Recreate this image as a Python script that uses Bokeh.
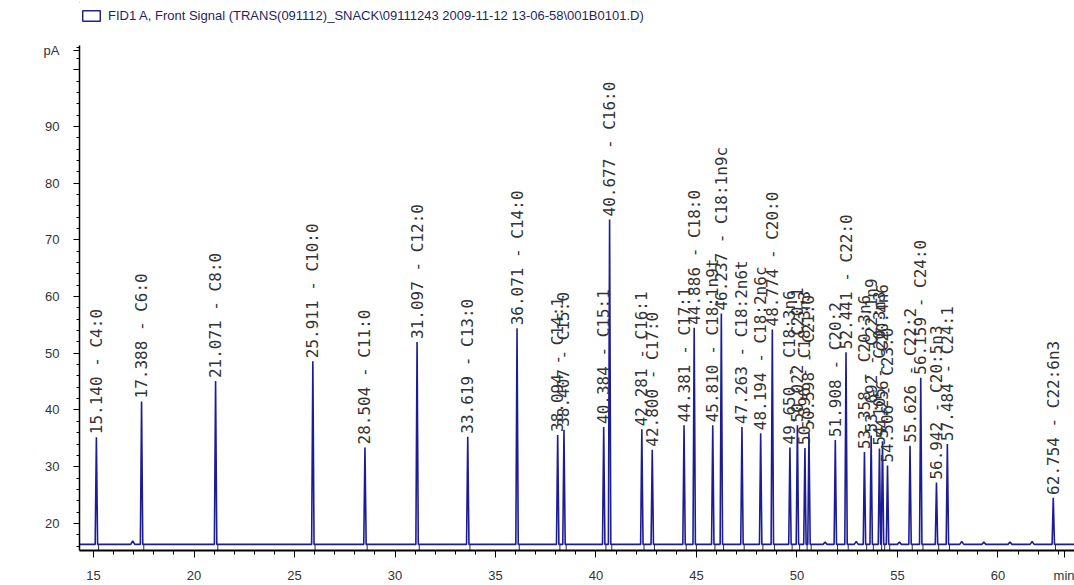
import math
from bokeh.plotting import figure
from bokeh.models import Range1d, FixedTicker, Legend, LegendItem, ColumnDataSource
from bokeh.core.properties import value
from bokeh.embed import file_html
from bokeh.resources import INLINE

# ---- data ----
signal_name = r"FID1 A, Front Signal (TRANS(091112)_SNACK\09111243 2009-11-12 13-06-58\001B0101.D)"
baseline_pA = 16.3
ret_times = [15.140, 17.388, 21.071, 25.911, 28.504, 31.097, 33.619, 36.071, 38.094, 38.407,
             40.384, 40.677, 42.281, 42.800, 44.381, 44.886, 45.810, 46.237, 47.263, 48.194,
             48.774, 49.650, 50.022, 50.396, 50.598, 51.908, 52.441, 53.358, 53.692, 54.105,
             54.256, 54.506, 55.626, 56.159, 56.942, 57.484, 62.754]
peak_pA = [35.2, 41.5, 45.1, 48.6, 33.4, 52.0, 35.3, 54.4, 35.6, 36.5,
           37.0, 73.6, 36.6, 33.0, 37.3, 54.5, 37.3, 57.0, 37.0, 35.9,
           54.2, 33.4, 37.3, 33.3, 36.0, 34.7, 50.2, 32.6, 35.5, 33.2,
           34.5, 30.2, 33.7, 45.7, 27.2, 34.0, 24.5]
compounds = ["C4:0", "C6:0", "C8:0", "C10:0", "C11:0", "C12:0", "C13:0", "C14:0", "C14:1", "C15:0",
             "C15:1", "C16:0", "C16:1", "C17:0", "C17:1", "C18:0", "C18:1n9t", "C18:1n9c", "C18:2n6t", "C18:2n6c",
             "C20:0", "C18:3n6", "C20:1", "C18:3n3", "C21:0", "C20:2", "C22:0", "C20:3n6", "C22:1n9", "C20:3n3",
             "C20:4n6", "C23:0", "C22:2", "C24:0", "C20:5n3", "C24:1", "C22:6n3"]
# small unlabeled baseline bumps
minor_times = [16.95, 51.40, 52.95, 55.10, 58.20, 59.30, 60.60, 61.70]
minor_pA = [16.9, 16.7, 16.8, 16.7, 16.8, 16.7, 16.7, 16.8]
x_major_ticks = [15, 20, 25, 30, 35, 40, 45, 50, 55, 60]
x_unit_tick, x_unit_label = 63.3, "min"
y_major_ticks = [20, 30, 40, 50, 60, 70, 80, 90, 100]
y_unit_tick, y_unit_label = 103.4, "pA"

# ---- build trace from the peak table ----
X0, X1 = 14.30, 63.81
Y0, Y1 = 15.22, 112.22
HW_MAIN, HW_MINOR = 0.06, 0.10
events = [(t, h, HW_MAIN) for t, h in zip(ret_times, peak_pA)] + \
         [(t, h, HW_MINOR) for t, h in zip(minor_times, minor_pA)]
events.sort()
xs, ys = [X0], [baseline_pA]
for t, h, hw in events:
    xs += [t - hw, t, t + hw]
    ys += [baseline_pA, h, baseline_pA]
xs.append(X1)
ys.append(baseline_pA)

p = figure(width=1074, height=585, output_backend="svg", toolbar_location=None,
           x_range=Range1d(X0, X1), y_range=Range1d(Y0, Y1),
           min_border_left=79, min_border_right=0, min_border_top=0, min_border_bottom=35)
p.background_fill_color = "white"
p.border_fill_color = "white"
p.outline_line_color = None
p.xgrid.visible = False
p.ygrid.visible = False
p.styles = {"outline": "1px solid #333333", "outline-offset": "-3px"}

trace = p.line(xs, ys, line_color="#1c1c96", line_width=1.6)

# integration marks just below the baseline
p.segment(x0=[t + 0.11 for t in ret_times], y0=[baseline_pA] * len(ret_times),
          x1=[t + 0.11 for t in ret_times], y1=[baseline_pA - 1.0] * len(ret_times),
          line_color="#2a2a55", line_width=1)

labels = ["%.3f - %s" % (t, c) for t, c in zip(ret_times, compounds)]
src = ColumnDataSource(dict(x=ret_times, y=peak_pA, text=labels))
p.text(x="x", y="y", text="text", source=src, angle=math.pi / 2,
       text_align="left", text_baseline="middle", y_offset=-3,
       text_font=value("DejaVu Sans Mono"), text_font_size="16px", text_color="#333333")

# axes
xa = p.xaxis[0]
xa.ticker = FixedTicker(ticks=x_major_ticks + [x_unit_tick],
                        minor_ticks=list(range(15, 64)))
xa.major_label_overrides = {x_unit_tick: x_unit_label}
xa.axis_line_width = 2
xa.axis_line_color = "black"
xa.major_tick_out = 7
xa.major_tick_in = 0
xa.minor_tick_out = 4
xa.minor_tick_in = 0
xa.major_tick_line_color = "black"
xa.minor_tick_line_color = "black"
xa.major_label_standoff = 10
xa.major_label_text_font = "Liberation Sans"
xa.major_label_text_font_size = "13px"
xa.major_label_text_color = "#333333"

ya = p.yaxis[0]
ya.ticker = FixedTicker(ticks=y_major_ticks + [y_unit_tick],
                        minor_ticks=list(range(16, 105, 2)))
ya.bounds = (Y0, 104.3)
ya.major_label_overrides = {100: "", y_unit_tick: y_unit_label}
ya.axis_line_width = 1.5
ya.axis_line_color = "black"
ya.major_tick_out = 6
ya.major_tick_in = 0
ya.minor_tick_out = 3
ya.minor_tick_in = 0
ya.major_tick_line_color = "black"
ya.minor_tick_line_color = "black"
ya.major_label_standoff = 14
ya.major_label_text_font = "'Liberation Sans Narrow', 'Liberation Sans'"
ya.major_label_text_font_size = "13px"
ya.major_label_text_color = "#333333"

# legend: box outline + signal description (one off-range row so the legend glyph has visuals)
box = p.quad(left=[X0 - 5], right=[X0 - 4], top=[Y0 - 5], bottom=[Y0 - 6],
             fill_color=None, line_color="#23238a", line_width=1.5)
leg = Legend(items=[LegendItem(label=signal_name, renderers=[box])], location=(1, 527),
             margin=0, padding=0, spacing=0, glyph_width=22, glyph_height=13, label_height=15,
             label_standoff=6, background_fill_alpha=0, border_line_color=None,
             label_text_font="Liberation Sans", label_text_font_size="13px", label_text_color="#1f1f5f")
p.add_layout(leg)

open("out.html", "w").write(file_html(p, INLINE))
